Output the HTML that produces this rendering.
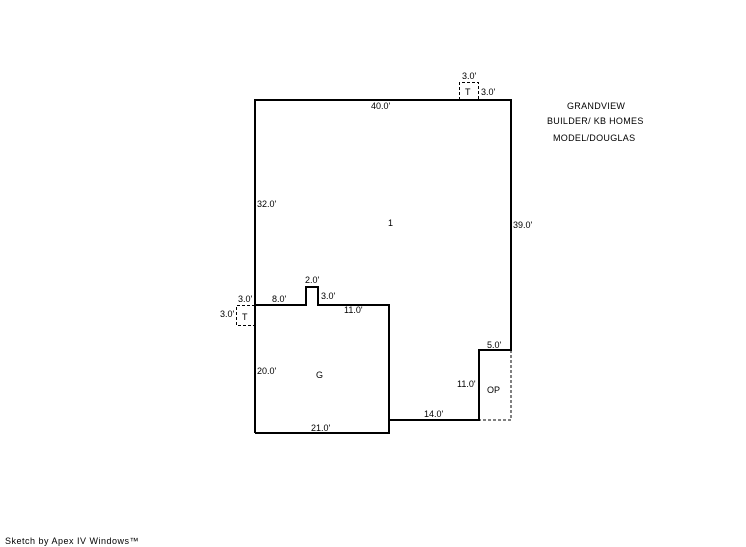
<!DOCTYPE html>
<html><head><style>
html,body{margin:0;padding:0;background:#fff;}
svg{display:block;}
text{font-family:"Liberation Sans",sans-serif;font-size:9px;fill:#000;}
</style></head><body>
<svg width="746" height="547" viewBox="0 0 746 547" xmlns="http://www.w3.org/2000/svg">
<g fill="none" stroke="#000" stroke-width="2">
<polyline points="255,433 255,100 511,100 511,350 479,350 479,420 389,420"/>
<polyline points="255,305 306,305 306,287 318,287 318,305 389,305 389,433 255,433"/>
</g>
<g fill="none" stroke="#000" stroke-width="1" stroke-dasharray="3,2">
<polyline points="511,350 511,420 479,420"/>
<polyline points="459.5,100 459.5,82.5 478.5,82.5 478.5,100"/>
<polyline points="255,305.5 236.5,305.5 236.5,325.5 255,325.5"/>
</g>
<text x="462" y="79">3.0'</text>
<text x="465" y="95">T</text>
<text x="481" y="95">3.0'</text>
<text x="371" y="109">40.0'</text>
<text x="567" y="109" letter-spacing="0.3">GRANDVIEW</text>
<text x="547" y="124" letter-spacing="0.3">BUILDER/ KB HOMES</text>
<text x="553" y="141" letter-spacing="0.3">MODEL/DOUGLAS</text>
<text x="257" y="207">32.0'</text>
<text x="388" y="226">1</text>
<text x="513" y="228">39.0'</text>
<text x="305" y="283">2.0'</text>
<text x="238" y="302">3.0'</text>
<text x="272" y="302">8.0'</text>
<text x="321" y="299">3.0'</text>
<text x="344" y="313">11.0'</text>
<text x="220" y="317">3.0'</text>
<text x="242" y="320">T</text>
<text x="487" y="348">5.0'</text>
<text x="257" y="374">20.0'</text>
<text x="316" y="378">G</text>
<text x="457" y="387">11.0'</text>
<text x="487" y="393">OP</text>
<text x="424" y="417">14.0'</text>
<text x="311" y="431">21.0'</text>
<text x="5" y="544" letter-spacing="0.5">Sketch by Apex IV Windows™</text>
</svg>
</body></html>
